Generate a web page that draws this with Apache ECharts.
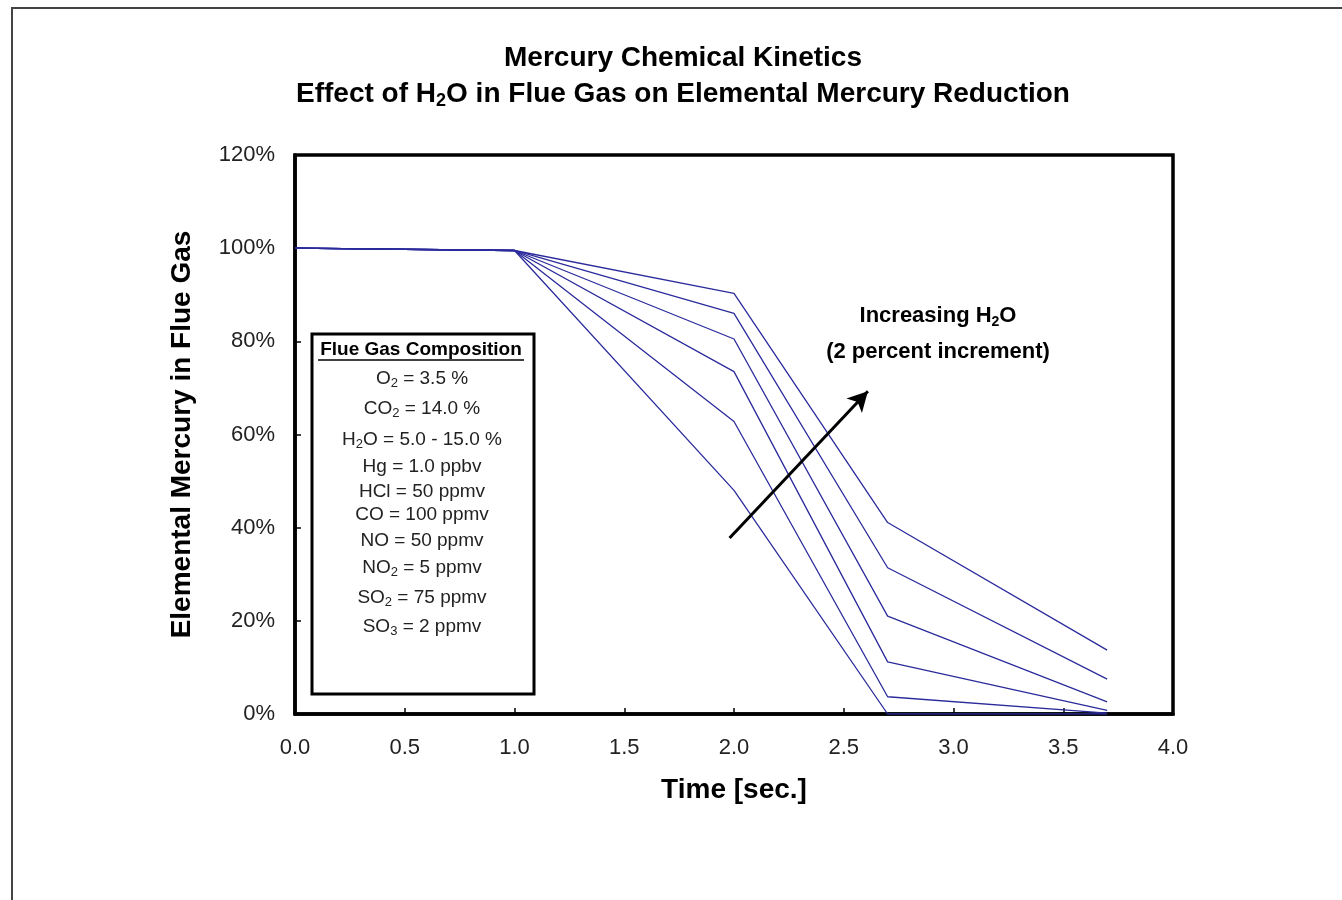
<!DOCTYPE html>
<html>
<head>
<meta charset="utf-8">
<title>Mercury Chemical Kinetics</title>
<script src="https://cdn.jsdelivr.net/npm/echarts@6/dist/echarts.min.js"></script>
<style>
  html, body { margin: 0; padding: 0; background: #ffffff; }
  #chart { width: 1342px; height: 900px; }
</style>
</head>
<body>
<div id="chart"></div>
<script>
// Residence time [sec.]
const timeSec = [0, 1.0, 2.0, 2.7, 3.7];

// Elemental Hg remaining (%) for each H2O level, 2 percent steps
const h2o5  = [100, 99.5, 48.0, 0.0, 0.0];
const h2o7  = [100, 99.5, 62.8, 3.7, 0.2];
const h2o9  = [100, 99.5, 73.5, 11.2, 0.8];
const h2o11 = [100, 99.5, 80.5, 21.0, 2.6];
const h2o13 = [100, 99.5, 86.0, 31.4, 7.5];
const h2o15 = [100, 99.5, 90.3, 41.1, 13.7];

const seriesNames = ['H2O 5%', 'H2O 7%', 'H2O 9%', 'H2O 11%', 'H2O 13%', 'H2O 15%'];
const seriesValues = [h2o5, h2o7, h2o9, h2o11, h2o13, h2o15];

// Axis ticks
const xTicks = { min: 0, max: 4, step: 0.5 };
const yTicks = { min: 0, max: 120, step: 20 };

// Trend arrow (time, %) from tail to head
const arrowTail = [1.98, 37.8];
const arrowHead = [2.61, 69.3];

// Flue gas composition box lines ({s|..} marks a subscript)
const compositionTitle = 'Flue Gas Composition';
const compositionLines = [
  'O{s|2} = 3.5 %',
  'CO{s|2} = 14.0 %',
  'H{s|2}O = 5.0 - 15.0 %',
  'Hg = 1.0 ppbv',
  'HCl = 50 ppmv',
  'CO = 100 ppmv',
  'NO = 50 ppmv',
  'NO{s|2} = 5 ppmv',
  'SO{s|2} = 75 ppmv',
  'SO{s|3} = 2 ppmv'
];
const compositionY = [379, 409, 440, 467, 492, 515, 541, 568, 598, 627];

const FONT = '"Liberation Sans", Arial, Helvetica, sans-serif';
const LINE_COLOR = '#2b2b9c';

function pairs(xs, ys) {
  return xs.map((x, i) => [x, ys[i]]);
}

const chart = echarts.init(document.getElementById('chart'), null, { renderer: 'canvas' });

const series = seriesValues.map((vals, i) => ({
  name: seriesNames[i],
  type: 'line',
  data: pairs(timeSec, vals),
  symbol: 'none',
  smooth: false,
  lineStyle: { color: LINE_COLOR, width: 1.3 },
  z: 3,
  silent: true
}));

// Arrow drawn in data coordinates on the first series
series[0].markLine = {
  silent: true,
  symbol: ['none', 'arrow'],
  symbolSize: [16, 20],
  label: { show: false },
  lineStyle: { color: '#000000', width: 3, type: 'solid' },
  data: [[{ coord: arrowTail }, { coord: arrowHead }]],
  z: 5
};

const graphics = [
  // outer frame
  {
    type: 'rect',
    shape: { x: 12, y: 8, width: 1400, height: 1000 },
    style: { fill: 'none', stroke: '#444444', lineWidth: 2 },
    silent: true, z: 0
  },
  // titles
  {
    type: 'text',
    style: {
      text: 'Mercury Chemical Kinetics',
      x: 683, y: 58, align: 'center', verticalAlign: 'middle',
      font: 'bold 28px ' + FONT, fill: '#000000'
    },
    silent: true
  },
  {
    type: 'text',
    style: {
      text: 'Effect of H{s|2}O in Flue Gas on Elemental Mercury Reduction',
      x: 683, y: 94, align: 'center', verticalAlign: 'middle',
      fontSize: 28, fontWeight: 'bold', fontFamily: FONT, fill: '#000000',
      lineHeight: 32,
      rich: {
        s: { fontSize: 18, lineHeight: 18, verticalAlign: 'bottom', fontWeight: 'bold', fontFamily: FONT }
      }
    },
    silent: true
  },
  // composition box
  {
    type: 'rect',
    shape: { x: 312, y: 334, width: 222, height: 360 },
    style: { fill: '#ffffff', stroke: '#000000', lineWidth: 3 },
    silent: true, z: 10
  },
  {
    type: 'text',
    style: {
      text: compositionTitle,
      x: 421, y: 350, align: 'center', verticalAlign: 'middle',
      font: 'bold 19px ' + FONT, fill: '#000000'
    },
    silent: true, z: 11
  },
  {
    type: 'line',
    shape: { x1: 318, y1: 360, x2: 524, y2: 360 },
    style: { stroke: '#000000', lineWidth: 1.5 },
    silent: true, z: 11
  },
  // annotation text
  {
    type: 'text',
    style: {
      text: 'Increasing H{s|2}O',
      x: 938, y: 316, align: 'center', verticalAlign: 'middle',
      fontSize: 22, fontWeight: 'bold', fontFamily: FONT, fill: '#000000',
      lineHeight: 26,
      rich: {
        s: { fontSize: 14, lineHeight: 14, verticalAlign: 'bottom', fontWeight: 'bold', fontFamily: FONT }
      }
    },
    silent: true, z: 11
  },
  {
    type: 'text',
    style: {
      text: '(2 percent increment)',
      x: 938, y: 352, align: 'center', verticalAlign: 'middle',
      font: 'bold 22px ' + FONT, fill: '#000000'
    },
    silent: true, z: 11
  }
];

compositionLines.forEach((line, i) => {
  graphics.push({
    type: 'text',
    style: {
      text: line,
      x: 422, y: compositionY[i], align: 'center', verticalAlign: 'middle',
      fontSize: 19, fontFamily: FONT, fill: '#222222', lineHeight: 22,
      rich: {
        s: { fontSize: 13, lineHeight: 13, verticalAlign: 'bottom', fontFamily: FONT, color: '#222222' }
      }
    },
    silent: true, z: 11
  });
});

const option = {
  animation: false,
  backgroundColor: '#ffffff',
  textStyle: { fontFamily: FONT },
  grid: {
    left: 295, right: 169, top: 155, bottom: 186,
    show: true, borderColor: '#000000', borderWidth: 3.5,
    containLabel: false
  },
  xAxis: {
    type: 'value',
    min: xTicks.min, max: xTicks.max, interval: xTicks.step,
    name: 'Time [sec.]',
    nameLocation: 'middle',
    nameGap: 62,
    nameTextStyle: { fontSize: 28, fontWeight: 'bold', color: '#000000', fontFamily: FONT },
    axisLine: { show: true, onZero: false, lineStyle: { color: '#000000', width: 3.5 } },
    axisTick: { show: true, inside: true, length: 6, lineStyle: { color: '#000000', width: 1.5 } },
    axisLabel: {
      margin: 23, fontSize: 22, color: '#222222', fontFamily: FONT,
      formatter: v => v.toFixed(1)
    },
    splitLine: { show: false }
  },
  yAxis: {
    type: 'value',
    min: yTicks.min, max: yTicks.max, interval: yTicks.step,
    name: 'Elemental Mercury in Flue Gas',
    nameLocation: 'middle',
    nameRotate: 90,
    nameGap: 99,
    nameTextStyle: { fontSize: 28, fontWeight: 'bold', color: '#000000', fontFamily: FONT },
    axisLine: { show: true, onZero: false, lineStyle: { color: '#000000', width: 3.5 } },
    axisTick: { show: true, inside: true, length: 6, lineStyle: { color: '#000000', width: 1.5 } },
    axisLabel: {
      margin: 20, fontSize: 22, color: '#222222', fontFamily: FONT,
      formatter: v => v + '%'
    },
    splitLine: { show: false }
  },
  series: series,
  graphic: graphics
};

chart.setOption(option);
</script>
</body>
</html>
